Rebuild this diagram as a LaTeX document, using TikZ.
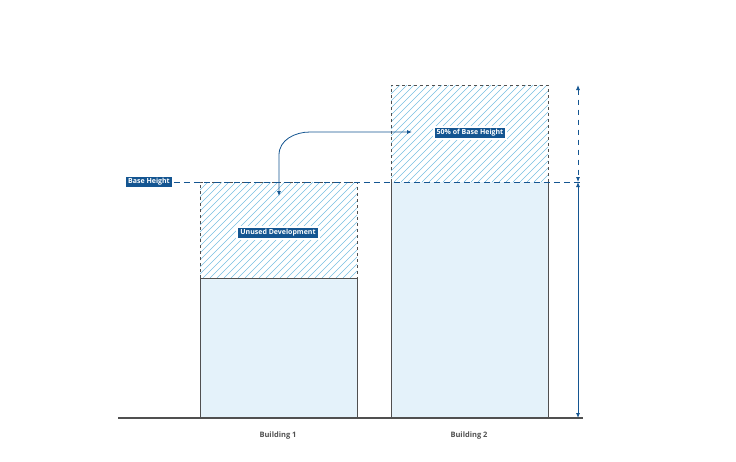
\documentclass[tikz,border=0pt]{standalone}
\usepackage{fontspec}
\setmainfont{Open Sans}
\usetikzlibrary{arrows.meta}
\definecolor{dblue}{RGB}{20,85,145}
\definecolor{lfill}{RGB}{228,242,250}
\definecolor{hatch}{RGB}{120,190,225}
\definecolor{gline}{RGB}{80,80,80}
\tikzset{
 x=1pt,y=-1pt,
 lbl/.style={fill=dblue,text=white,font=\bfseries\fontsize{7}{8}\selectfont,inner xsep=3pt,inner ysep=2.5pt,draw=white,line width=2pt},
 blab/.style={text=gline,font=\bfseries\fontsize{7.5}{9}\selectfont},
 hatchbox/.style={draw=gline,dashed,line width=0.6pt},
 dim/.style={dblue,line width=0.8pt,{Latex[length=5pt,width=4pt]}-{Latex[length=5pt,width=4pt]}},
}
\newcommand{\hatchrect}[4]{%
 \begin{scope}
 \clip (#1,#2) rectangle (#3,#4);
 \foreach \i in {-200,-193,...,200} {\draw[hatch,line width=0.6pt] (#1+\i,#4) -- ++(120,-120);}
 \end{scope}}
\begin{document}
\begin{tikzpicture}
\useasboundingbox (0,0) rectangle (736,461);
% building 1
\fill[lfill] (200,278) rectangle (357,418);
\hatchrect{200}{182}{357}{278}
\draw[gline,line width=0.6pt] (200,418) -- (200,278) -- (357,278) -- (357,418);
\draw[hatchbox] (200,278) -- (200,182) -- (357,182) -- (357,278);
% building 2
\fill[lfill] (391,182) rectangle (548,418);
\hatchrect{391}{85}{548}{182}
\draw[gline,line width=0.6pt] (391,418) -- (391,182) (548,182) -- (548,418);
\draw[hatchbox] (391,182) -- (391,85) -- (548,85) -- (548,182);
% ground
\draw[gline,line width=1.2pt] (118,418) -- (583,418);
% base height line
\node[lbl] (bh) at (149,182) {Base Height};
\coordinate (bhe) at (583,182);
\draw[dblue,dashed,line width=1pt,dash pattern=on 6pt off 4pt] (bh.east) -- (bhe);
% dims
\coordinate (d1) at (578,85);
\coordinate (d2) at (578,182);
\coordinate (d3) at (578,418);
\draw[dim,dash pattern=on 5pt off 5pt] (d1) -- (d2);
\draw[dim] (d2) -- (d3);
% labels
\node[lbl] (ud) at (278,233) {Unused Development};
\node[lbl] (fp) at (470,133) {50\% of Base Height};
\coordinate (cs) at (279,196);
\coordinate (ce) at (412,132);
\draw[dblue,line width=0.8pt,{Latex[length=5pt,width=4pt]}-{Latex[length=5pt,width=4pt]}] (cs) -- (279,155) to[out=90,in=180] (310,132) -- (ce);
% building labels
\node[blab] (b1) at (278,436) {Building 1};
\node[blab] (b2) at (469,436) {Building 2};
\end{tikzpicture}
\end{document}
